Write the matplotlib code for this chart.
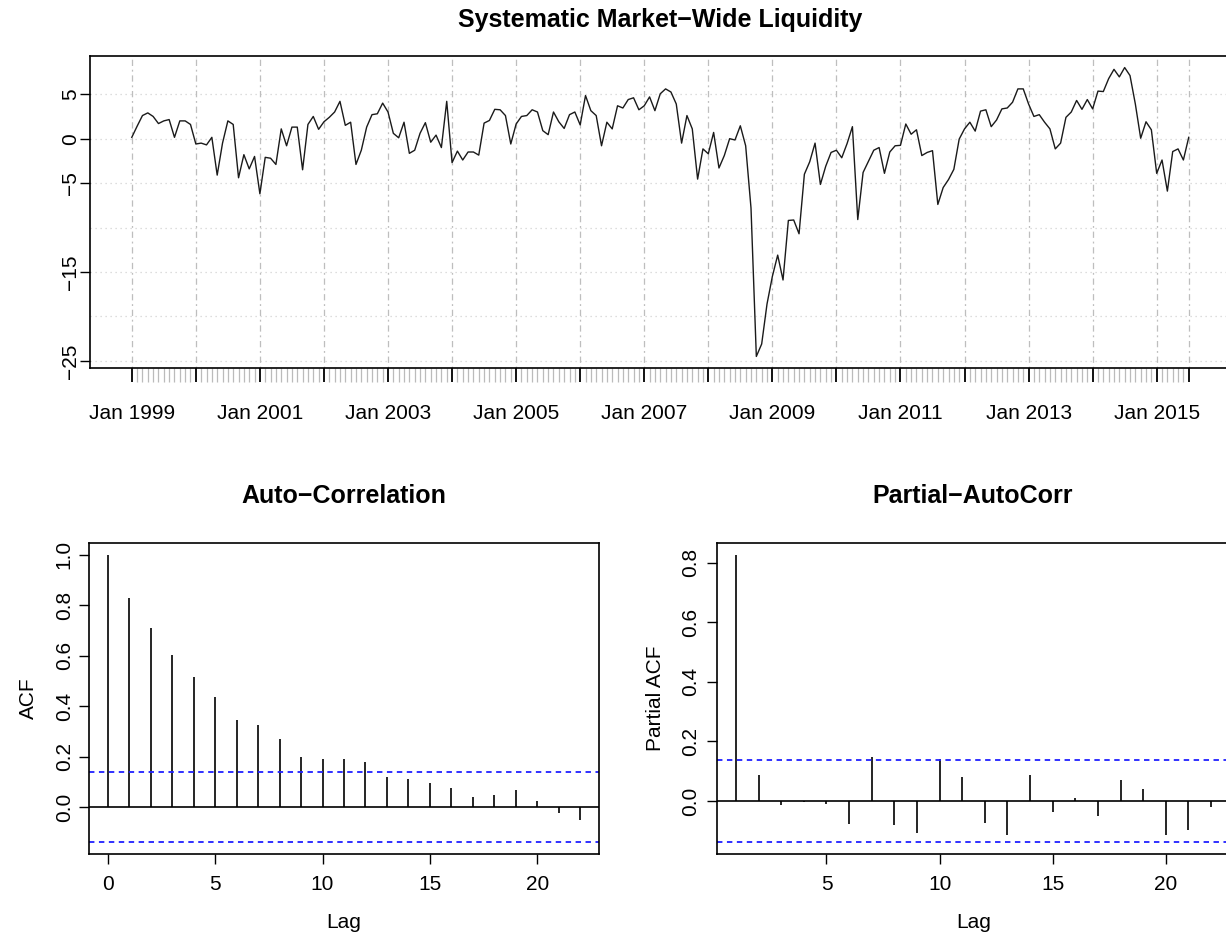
import numpy as np
import pandas as pd
import matplotlib
matplotlib.use('Agg')
import matplotlib.pyplot as plt

plt.rcParams['font.family'] = ['Liberation Sans', 'DejaVu Sans']

# monthly series, Jan 1999 .. Jul 2015
liquidity = [
    0.15, 1.4, 2.6, 2.9, 2.5, 1.7, 2.0, 2.15, 0.15, 2.0, 2.0, 1.6,
    -0.6, -0.5, -0.7, 0.15, -4.1, -0.5, 2.0, 1.6, -4.4, -1.8, -3.4, -2.0,
    -6.2, -2.1, -2.2, -2.9, 1.1, -0.8, 1.3, 1.3, -3.5, 1.6, 2.5, 1.05,
    1.9, 2.4, 3.0, 4.2, 1.5, 1.85, -2.9, -1.3, 1.3, 2.7, 2.8, 4.0,
    3.0, 0.6, 0.1, 1.85, -1.65, -1.3, 0.6, 1.8, -0.4, 0.4, -1.0, 4.2,
    -2.7, -1.4, -2.4, -1.5, -1.5, -1.85, 1.75, 2.05, 3.3, 3.25, 2.6, -0.6,
    1.65, 2.5, 2.6, 3.25, 3.0, 0.9, 0.45, 3.0, 1.9, 1.15, 2.7, 3.0,
    1.55, 4.85, 3.15, 2.6, -0.8, 1.85, 1.1, 3.7, 3.45, 4.4, 4.6, 3.25,
    3.7, 4.7, 3.15, 5.05, 5.6, 5.25, 3.9, -0.5, 2.6, 1.1, -4.55, -1.15,
    -1.7, 0.7, -3.3, -1.9, 0.0, -0.15, 1.45, -0.8, -7.8, -24.5, -23.1, -18.6,
    -15.5, -13.1, -15.9, -9.2, -9.15, -10.7, -4.0, -2.6, -0.5, -5.15, -3.1, -1.55,
    -1.3, -2.15, -0.55, 1.35, -9.1, -3.8, -2.55, -1.3, -1.0, -3.9, -1.5, -0.8,
    -0.75, 1.65, 0.5, 1.0, -1.9, -1.55, -1.35, -7.4, -5.5, -4.6, -3.45, -0.05,
    1.1, 1.85, 0.85, 3.1, 3.25, 1.35, 2.1, 3.35, 3.45, 4.1, 5.6, 5.6,
    3.9, 2.5, 2.7, 1.85, 1.1, -1.15, -0.5, 2.4, 3.0, 4.3, 3.3, 4.4,
    3.35, 5.35, 5.3, 6.75, 7.8, 6.95, 8.0, 7.1, 3.9, 0.05, 1.9, 1.0,
    -3.9, -2.4, -5.9, -1.45, -1.15, -2.4, 0.15,
]
dates = pd.date_range('1999-01-01', periods=len(liquidity), freq='MS')

acf_lags = list(range(0, 23))
acf_vals = [1.0, 0.829, 0.711, 0.601, 0.516, 0.437, 0.345, 0.324, 0.272, 0.201,
            0.191, 0.193, 0.180, 0.120, 0.112, 0.096, 0.076, 0.042, 0.050, 0.067,
            0.024, -0.024, -0.050]

pacf_lags = list(range(1, 23))
pacf_vals = [0.827, 0.086, -0.013, -0.002, -0.009, -0.076, 0.148, -0.079, -0.106, 0.141,
             0.079, -0.072, -0.115, 0.089, -0.036, 0.009, -0.050, 0.069, 0.039, -0.115,
             -0.098, -0.020]
conf = 0.139

W, H = 1226, 936
fig = plt.figure(figsize=(W / 100, H / 100), dpi=100)

def px_axes(left, top, right, bottom):
    return fig.add_axes([left / W, 1 - bottom / H, (right - left) / W, (bottom - top) / H])

tick_fs = 15
title_fs = 18

# ---- top: time series ----
ax = px_axes(89.5, 56, 1231, 368)
x = np.arange(len(liquidity))
n = len(x) - 1
ax.set_xlim(-0.04 * n, n * 1.04)
lo, hi = min(liquidity), max(liquidity)
pad = 0.04 * (hi - lo)
ax.set_ylim(lo - pad, hi + pad)

for v in range(-25, 10, 5):
    ax.axhline(v, color='#d3d3d3', lw=0.9, ls=(0, (1, 3)), zorder=1)
major = [i for i in x if dates[i].month == 1] + [n]
for m in major:
    ax.axvline(m, color='#bebebe', lw=0.9, ls=(0, (1.5, 3, 5, 3)), zorder=1)

ax.plot(x, liquidity, color='#1a1a1a', lw=1.0, zorder=3)

ax.set_xticks(major)
ax.set_xticklabels([dates[m].strftime('%b %Y') if (m < n and dates[m].year % 2 == 1) else ''
                    for m in major])
ax.set_xticks(x, minor=True)
ax.tick_params(axis='x', which='major', length=10, width=1.3, color='black',
               labelsize=tick_fs, pad=16)
ax.tick_params(axis='x', which='minor', length=10, width=0.9, color='#bbbbbb')
ax.set_yticks([5, 0, -5, -15, -25])
ax.set_yticklabels(['5', '0', '\u22125', '\u221215', '\u221225'], rotation=90, va='center')
ax.tick_params(axis='y', length=7, width=1, labelsize=tick_fs, pad=0)
for s in ax.spines.values():
    s.set_linewidth(1.2)
fig.text(660 / W, 1 - 20 / H, 'Systematic Market\u2212Wide Liquidity',
         ha='center', va='center', fontsize=title_fs, fontweight='bold')

# ---- bottom left: ACF ----
ax2 = px_axes(89, 543, 599, 854)
ax2.vlines(acf_lags, 0, acf_vals, color='black', lw=1.2)
ax2.axhline(0, color='black', lw=1.2)
for c in (conf, -conf):
    ax2.axhline(c, color='#2020ff', lw=1.3, ls=(0, (3, 2.5)))
ax2.set_xlim(-0.88, 22.88)
ylo = min(-conf, min(acf_vals))
yhi = max(acf_vals)
ax2.set_ylim(ylo - 0.04 * (yhi - ylo), yhi + 0.04 * (yhi - ylo))
ax2.set_xticks([0, 5, 10, 15, 20])
ax2.set_yticks([0.0, 0.2, 0.4, 0.6, 0.8, 1.0])
ax2.set_yticklabels(['%.1f' % t for t in [0.0, 0.2, 0.4, 0.6, 0.8, 1.0]], rotation=90, va='center')
ax2.tick_params(length=7, width=1, labelsize=tick_fs)
ax2.tick_params(axis='x', pad=8)
ax2.tick_params(axis='y', pad=4)
ax2.set_xlabel('Lag', fontsize=tick_fs, labelpad=14)
ax2.set_ylabel('ACF', fontsize=tick_fs, labelpad=12)
fig.text(344 / W, 1 - 496 / H, 'Auto\u2212Correlation', ha='center', va='center',
         fontsize=title_fs, fontweight='bold')

# ---- bottom right: PACF ----
ax3 = px_axes(717, 543, 1230, 854)
ax3.vlines(pacf_lags, 0, pacf_vals, color='black', lw=1.2)
ax3.axhline(0, color='black', lw=1.2)
for c in (conf, -conf):
    ax3.axhline(c, color='#2020ff', lw=1.3, ls=(0, (3, 2.5)))
ax3.set_xlim(0.16, 22.84)
ylo = min(-conf, min(pacf_vals))
yhi = max(pacf_vals)
ax3.set_ylim(ylo - 0.04 * (yhi - ylo), yhi + 0.04 * (yhi - ylo))
ax3.set_xticks([5, 10, 15, 20])
ax3.set_yticks([0.0, 0.2, 0.4, 0.6, 0.8])
ax3.set_yticklabels(['%.1f' % t for t in [0.0, 0.2, 0.4, 0.6, 0.8]], rotation=90, va='center')
ax3.tick_params(length=7, width=1, labelsize=tick_fs)
ax3.tick_params(axis='x', pad=8)
ax3.tick_params(axis='y', pad=5)
ax3.set_xlabel('Lag', fontsize=tick_fs, labelpad=14)
ax3.set_ylabel('Partial ACF', fontsize=tick_fs, labelpad=12)
fig.text(973 / W, 1 - 496 / H, 'Partial\u2212AutoCorr', ha='center', va='center',
         fontsize=title_fs, fontweight='bold')

for a in (ax2, ax3):
    for s in a.spines.values():
        s.set_linewidth(1.2)

fig.savefig('out.png', dpi=100)
